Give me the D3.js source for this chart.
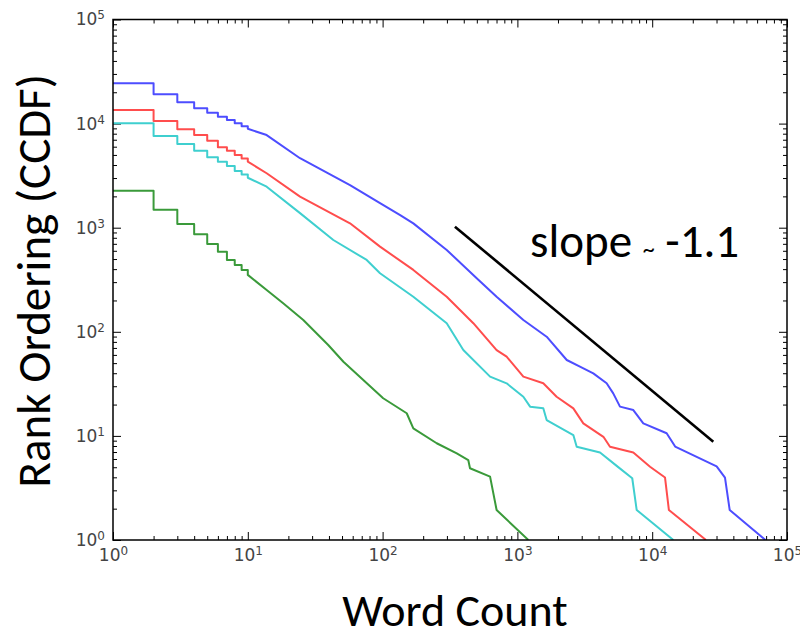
<!DOCTYPE html>
<html lang="en">
<head>
<meta charset="UTF-8">
<title>Word Count CCDF</title>
<script src="https://d3js.org/d3.v7.min.js"></script>
<style>
  body { margin: 0; background: #fff; }
  .tick text { font-family: "DejaVu Sans", sans-serif; font-size: 17px; fill: #444; }
  .tick line { stroke: #000; }
  .big { font-family: Carlito, Lato, sans-serif; fill: #000; }
</style>
</head>
<body>
<svg id="chart" width="800" height="636"></svg>
<script>
// tick labels (powers of ten)
const tickExponents = [0, 1, 2, 3, 4, 5];

// staircase part: level of each curve after word count = 1..10
const stepX = [1, 2, 3, 4, 5, 6, 7, 8, 9, 10];
const blueSteps = [24380, 19100, 16030, 14030, 12740, 11640, 10810, 10070, 9440, 8910];
const redSteps = [13520, 10590, 8810, 7760, 6850, 5920, 5500, 4990, 4620, 4310];
const cyanSteps = [10070, 7600, 6370, 5500, 4740, 4310, 3920, 3510, 3240, 3020];
const greenSteps = [2270, 1490, 1084, 863, 697, 589, 490, 439, 393, 352];

// tail part: [word count, rank]
const blueTail = [
  [13.8, 7760], [24.4, 4650], [57.3, 2570], [95.7, 1720], [135, 1320], [169, 1100],
  [299, 611], [499, 327], [701, 217], [1107, 130], [1648, 89.7], [2323, 53.6],
  [2911, 46.2], [3656, 39.9], [4592, 32], [5140, 25.6], [5768, 19.1], [7244, 17.7],
  [8590, 13.2], [12800, 10.6], [14800, 7.9], [30060, 5.1], [34670, 3.98],
  [37580, 1.94], [69180, 1]
];
const redTail = [
  [13.8, 3334], [24.4, 1986], [57.3, 1102], [95.7, 658], [169, 393], [299, 217],
  [471, 121], [701, 66.8], [832, 57.7], [1107, 37.1], [1556, 32], [1954, 23.8],
  [2600, 18.4], [3083, 13.2], [4345, 9.8], [4864, 7.87], [7244, 6.92], [9638, 5.06],
  [12450, 3.98], [13300, 1.94], [25060, 1]
];
const cyanTail = [
  [13.8, 2477], [24.4, 1380], [43.1, 762], [76.2, 490], [95.7, 365], [169, 217],
  [299, 121], [397, 66.8], [627, 37.1], [832, 32], [1107, 23.8], [1242, 19.1],
  [1556, 18.4], [1648, 14.2], [2600, 10.2], [2754, 7.87], [4102, 6.92], [5598, 5.01],
  [7112, 3.92], [7674, 1.94], [14350, 1]
];
const greenTail = [
  [13.8, 252], [18.3, 188], [25.8, 130], [39.5, 74.6], [51.2, 51.6], [71.9, 34.4],
  [101, 23], [151, 16.5], [169, 11.8], [252, 8.5], [355, 6.8], [432, 5.86],
  [445, 4.89], [627, 4.06], [701, 1.94], [1205, 1]
];

// reference slope line endpoints
const slopeLine = [[344, 1023], [28400, 8.8]];

const series = [
  { steps: greenSteps, tail: greenTail, color: "#3a9a3a" },
  { steps: cyanSteps, tail: cyanTail, color: "#3fcfcf" },
  { steps: redSteps, tail: redTail, color: "#ff4d4d" },
  { steps: blueSteps, tail: blueTail, color: "#4d4dff" }
];

const plotLeft = 113, plotRight = 787, plotTop = 19.5, plotBottom = 540;
const svg = d3.select("#chart");

const x = d3.scaleLog().domain([1, 1e5]).range([plotLeft, plotRight]);
const y = d3.scaleLog().domain([1, 1e5]).range([plotBottom, plotTop]);

const majors = tickExponents.map(e => Math.pow(10, e));
const minors = [];
majors.slice(0, -1).forEach(m => { for (let k = 2; k <= 9; k++) minors.push(m * k); });

function addTicks(axisFn, scale, transform, values, size) {
  svg.append("g")
    .attr("transform", transform)
    .call(axisFn(scale).tickValues(values).tickSize(-size).tickFormat(""))
    .call(g => g.select(".domain").remove());
}

// minor + major ticks on all four sides, pointing inward
[[d3.axisBottom, x, `translate(0,${plotBottom})`], [d3.axisTop, x, `translate(0,${plotTop})`],
 [d3.axisLeft, y, `translate(${plotLeft},0)`], [d3.axisRight, y, `translate(${plotRight},0)`]]
  .forEach(([fn, sc, tr]) => {
    addTicks(fn, sc, tr, minors, 4);
    addTicks(fn, sc, tr, majors, 8);
  });

// labels 10^n
function supLabels(g) {
  g.select(".domain").remove();
  g.selectAll(".tick line").remove();
  g.selectAll(".tick text")
    .append("tspan")
    .attr("dy", "-0.5em")
    .style("font-size", "12px")
    .text(d => Math.round(Math.log10(d)));
}
svg.append("g")
  .attr("transform", `translate(0,${plotBottom})`)
  .call(d3.axisBottom(x).tickValues(majors).tickSize(0).tickPadding(9).tickFormat(() => "10"))
  .call(supLabels);
svg.append("g")
  .attr("transform", `translate(${plotLeft},0)`)
  .call(d3.axisLeft(y).tickValues(majors).tickSize(0).tickPadding(8).tickFormat(() => "10"))
  .call(supLabels);

// clip + curves
svg.append("clipPath").attr("id", "plotClip")
  .append("rect").attr("x", plotLeft).attr("y", plotTop)
  .attr("width", plotRight - plotLeft).attr("height", plotBottom - plotTop);

function buildPoints(steps, tail) {
  const pts = [];
  steps.forEach((v, i) => {
    pts.push([stepX[i], v]);
    if (i < steps.length - 1) pts.push([stepX[i + 1], v]);
  });
  return pts.concat(tail);
}

const line = d3.line().x(d => x(d[0])).y(d => y(d[1]));

svg.append("g").attr("clip-path", "url(#plotClip)")
  .selectAll("path")
  .data(series)
  .join("path")
  .attr("d", d => line(buildPoints(d.steps, d.tail)))
  .attr("fill", "none")
  .attr("stroke", d => d.color)
  .attr("stroke-width", 2)
  .attr("stroke-linejoin", "round");

// slope guide
svg.append("path")
  .attr("d", line(slopeLine))
  .attr("stroke", "#000")
  .attr("stroke-width", 2.6)
  .attr("fill", "none");

const slopeText = svg.append("text").attr("class", "big")
  .attr("x", 530).attr("y", 257)
  .style("font-size", "47px");
slopeText.append("tspan").text("slope ");
slopeText.append("tspan").style("font-size", "24px").text("~");
slopeText.append("tspan").text(" -1.1");

// frame
svg.append("rect")
  .attr("x", plotLeft).attr("y", plotTop)
  .attr("width", plotRight - plotLeft).attr("height", plotBottom - plotTop)
  .attr("fill", "none").attr("stroke", "#000").attr("stroke-width", 1.5);

// axis titles
svg.append("text").attr("class", "big")
  .attr("x", (plotLeft + plotRight) / 2 + 5).attr("y", 626)
  .attr("text-anchor", "middle")
  .style("font-size", "46px")
  .text("Word Count");

svg.append("text").attr("class", "big")
  .attr("transform", `translate(50,${(plotTop + plotBottom) / 2 + 1}) rotate(-90)`)
  .attr("text-anchor", "middle")
  .style("font-size", "47px")
  .text("Rank Ordering (CCDF)");
</script>
</body>
</html>
